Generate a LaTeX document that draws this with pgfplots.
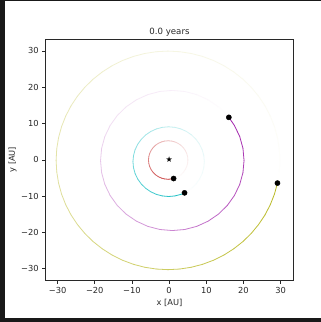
\documentclass[border=0pt]{standalone}
\usepackage{pgfplots}
\pgfplotsset{compat=1.18}
\usepackage{fontspec}
\setmainfont{DejaVu Sans}
\definecolor{framec}{RGB}{25,25,25}
\definecolor{cred}{RGB}{200,55,55}
\definecolor{ccyan}{RGB}{20,190,195}
\definecolor{cmag}{RGB}{160,30,170}
\definecolor{cyel}{RGB}{185,185,35}
\definecolor{axc}{RGB}{40,40,40}
\pgfplotsset{
  colormap={mred}{color(0)=(white) color(0.3)=(cred!14!white) color(0.6)=(cred!48!white) color(1)=(cred)},
  colormap={mcyan}{color(0)=(white) color(0.3)=(ccyan!14!white) color(0.6)=(ccyan!48!white) color(1)=(ccyan)},
  colormap={mmag}{color(0)=(white) color(0.3)=(cmag!14!white) color(0.6)=(cmag!48!white) color(1)=(cmag)},
  colormap={myel}{color(0)=(white) color(0.3)=(cyel!14!white) color(0.6)=(cyel!48!white) color(1)=(cyel)},
}
\pgfplotstableread{
x y m
1.21 -5.15 1
0.67 -5.27 .983
-0.25 -5.35 .956
-1.17 -5.27 .928
-2.06 -5.03 .900
-2.90 -4.64 .872
-3.66 -4.11 .844
-4.31 -3.46 .817
-4.84 -2.70 .789
-5.23 -1.86 .761
-5.47 -0.97 .733
-5.55 -0.05 .706
-5.47 0.87 .678
-5.23 1.76 .650
-4.84 2.60 .622
-4.31 3.36 .594
-3.66 4.01 .567
-2.90 4.54 .539
-2.06 4.93 .511
-1.17 5.17 .483
-0.25 5.25 .456
0.67 5.17 .428
1.56 4.93 .400
2.40 4.54 .372
3.16 4.01 .344
3.81 3.36 .317
4.34 2.60 .289
4.73 1.76 .261
4.97 0.87 .233
5.05 -0.05 .206
4.97 -0.97 .178
4.73 -1.86 .150
4.34 -2.70 .122
3.81 -3.46 .094
3.16 -4.11 .067
2.40 -4.64 .039
1.56 -5.03 .011
1.21 -5.15 0
}\redorbit
\pgfplotstableread{
x y m
4.15 -9.09 1
3.15 -9.52 .982
1.54 -9.95 .954
-0.13 -10.10 .926
-1.80 -9.95 .899
-3.41 -9.52 .871
-4.93 -8.81 .843
-6.30 -7.85 .815
-7.48 -6.67 .788
-8.44 -5.30 .760
-9.15 -3.78 .732
-9.58 -2.17 .704
-9.73 -0.50 .676
-9.58 1.17 .649
-9.15 2.78 .621
-8.44 4.30 .593
-7.48 5.67 .565
-6.30 6.85 .538
-4.93 7.81 .510
-3.41 8.52 .482
-1.80 8.95 .454
-0.13 9.10 .426
1.54 8.95 .399
3.15 8.52 .371
4.67 7.81 .343
6.04 6.85 .315
7.22 5.67 .288
8.18 4.30 .260
8.89 2.78 .232
9.32 1.17 .204
9.47 -0.50 .176
9.32 -2.17 .149
8.89 -3.78 .121
8.18 -5.30 .093
7.22 -6.67 .065
6.04 -7.85 .038
4.67 -8.81 .010
4.15 -9.09 0
}\cyanorbit
\pgfplotstableread{
x y m
16.06 11.70 1
17.56 9.47 .978
18.99 6.42 .950
19.86 3.17 .922
20.15 -0.18 .894
19.86 -3.53 .867
18.99 -6.78 .839
17.56 -9.83 .811
15.63 -12.59 .783
13.26 -14.96 .756
10.50 -16.89 .728
7.45 -18.32 .700
4.20 -19.19 .672
0.85 -19.48 .644
-2.50 -19.19 .617
-5.75 -18.32 .589
-8.80 -16.89 .561
-11.56 -14.96 .533
-13.93 -12.59 .506
-15.86 -9.83 .478
-17.29 -6.78 .450
-18.16 -3.53 .422
-18.45 -0.18 .394
-18.16 3.17 .367
-17.29 6.42 .339
-15.86 9.47 .311
-13.93 12.23 .283
-11.56 14.60 .256
-8.80 16.53 .228
-5.75 17.96 .200
-2.50 18.83 .172
0.85 19.12 .144
4.20 18.83 .117
7.45 17.96 .089
10.50 16.53 .061
13.26 14.60 .033
15.63 12.23 .006
16.06 11.70 0
}\magorbit
\pgfplotstableread{
x y m
29.14 -6.41 1
28.33 -9.45 .983
27.20 -12.39 .967
25.77 -15.20 .950
24.05 -17.84 .933
22.07 -20.29 .917
19.84 -22.52 .900
17.39 -24.50 .883
14.75 -26.22 .867
11.94 -27.65 .850
9.00 -28.78 .833
5.96 -29.59 .817
2.85 -30.08 .800
-0.30 -30.25 .783
-3.45 -30.08 .767
-6.56 -29.59 .750
-9.60 -28.78 .733
-12.54 -27.65 .717
-15.35 -26.22 .700
-17.99 -24.50 .683
-20.44 -22.52 .667
-22.67 -20.29 .650
-24.65 -17.84 .633
-26.37 -15.20 .617
-27.80 -12.39 .600
-28.93 -9.45 .583
-29.74 -6.41 .567
-30.23 -3.30 .550
-30.40 -0.15 .533
-30.23 3.00 .517
-29.74 6.11 .500
-28.93 9.15 .483
-27.80 12.09 .467
-26.37 14.90 .450
-24.65 17.54 .433
-22.67 19.99 .417
-20.44 22.22 .400
-17.99 24.20 .383
-15.35 25.92 .367
-12.54 27.35 .350
-9.60 28.48 .333
-6.56 29.29 .317
-3.45 29.78 .300
-0.30 29.95 .283
2.85 29.78 .267
5.96 29.29 .250
9.00 28.48 .233
11.94 27.35 .217
14.75 25.92 .200
17.39 24.20 .183
19.84 22.22 .167
22.07 19.99 .150
24.05 17.54 .133
25.77 14.90 .117
27.20 12.09 .100
28.33 9.15 .083
29.14 6.11 .067
29.63 2.99 .050
29.80 -0.15 .033
29.63 -3.30 .017
29.14 -6.41 0
}\yelorbit
\begin{document}
\begin{tikzpicture}
\fill[framec] (0pt,0pt) rectangle (321pt,322pt);
\fill[white] (5pt,3.5pt) rectangle (321pt,321pt);
\begin{axis}[
  at={(45.7pt,42pt)}, anchor=south west,
  scale only axis, width=247.6pt, height=240.7pt,
  xmin=-33.2, xmax=33.4, ymin=-33.1, ymax=33.2,
  xtick={-30,-20,...,30}, ytick={-30,-20,...,30},
  xticklabels={−30,−20,−10,0,10,20,30},
  yticklabels={−30,−20,−10,0,10,20,30},
  tick align=outside, xtick pos=bottom, ytick pos=left,
  major tick length=3.5pt,
  tick style={axc, line width=0.6pt},
  axis line style={axc, line width=0.7pt},
  tick label style={font=\fontsize{8.3}{10}\selectfont, text=axc},
  xlabel={x [AU]}, ylabel={y [AU]},
  every axis x label/.style={at={(axis description cs:0.5,-0.097)}, anchor=center},
  every axis y label/.style={at={(axis description cs:-0.134,0.5)}, rotate=90, anchor=center},
  label style={font=\fontsize{8.3}{10}\selectfont, text=axc},
  title={0.0 years},
  every axis title shift=0pt,
  title style={at={(axis description cs:0.5,1.029)}, anchor=center, font=\fontsize{8.6}{10}\selectfont, text=axc},
  point meta min=0, point meta max=1,
]
\addplot[mesh, line width=0.8pt, line cap=round, colormap name=myel, point meta=explicit] table[x=x, y=y, meta=m] {\yelorbit};
\addplot[mesh, line width=0.8pt, line cap=round, colormap name=mmag, point meta=explicit] table[x=x, y=y, meta=m] {\magorbit};
\addplot[mesh, line width=0.8pt, line cap=round, colormap name=mcyan, point meta=explicit] table[x=x, y=y, meta=m] {\cyanorbit};
\addplot[mesh, line width=0.8pt, line cap=round, colormap name=mred, point meta=explicit] table[x=x, y=y, meta=m] {\redorbit};
\addplot[only marks, mark=*, mark size=2.6pt, black] coordinates {(1.21,-5.15) (4.15,-9.09) (16.06,11.70) (29.14,-6.41)};
\addplot[black, only marks, mark=text, text mark={\fontsize{8}{8}\selectfont ★}] coordinates {(0,0)};
\end{axis}
\end{tikzpicture}
\end{document}
